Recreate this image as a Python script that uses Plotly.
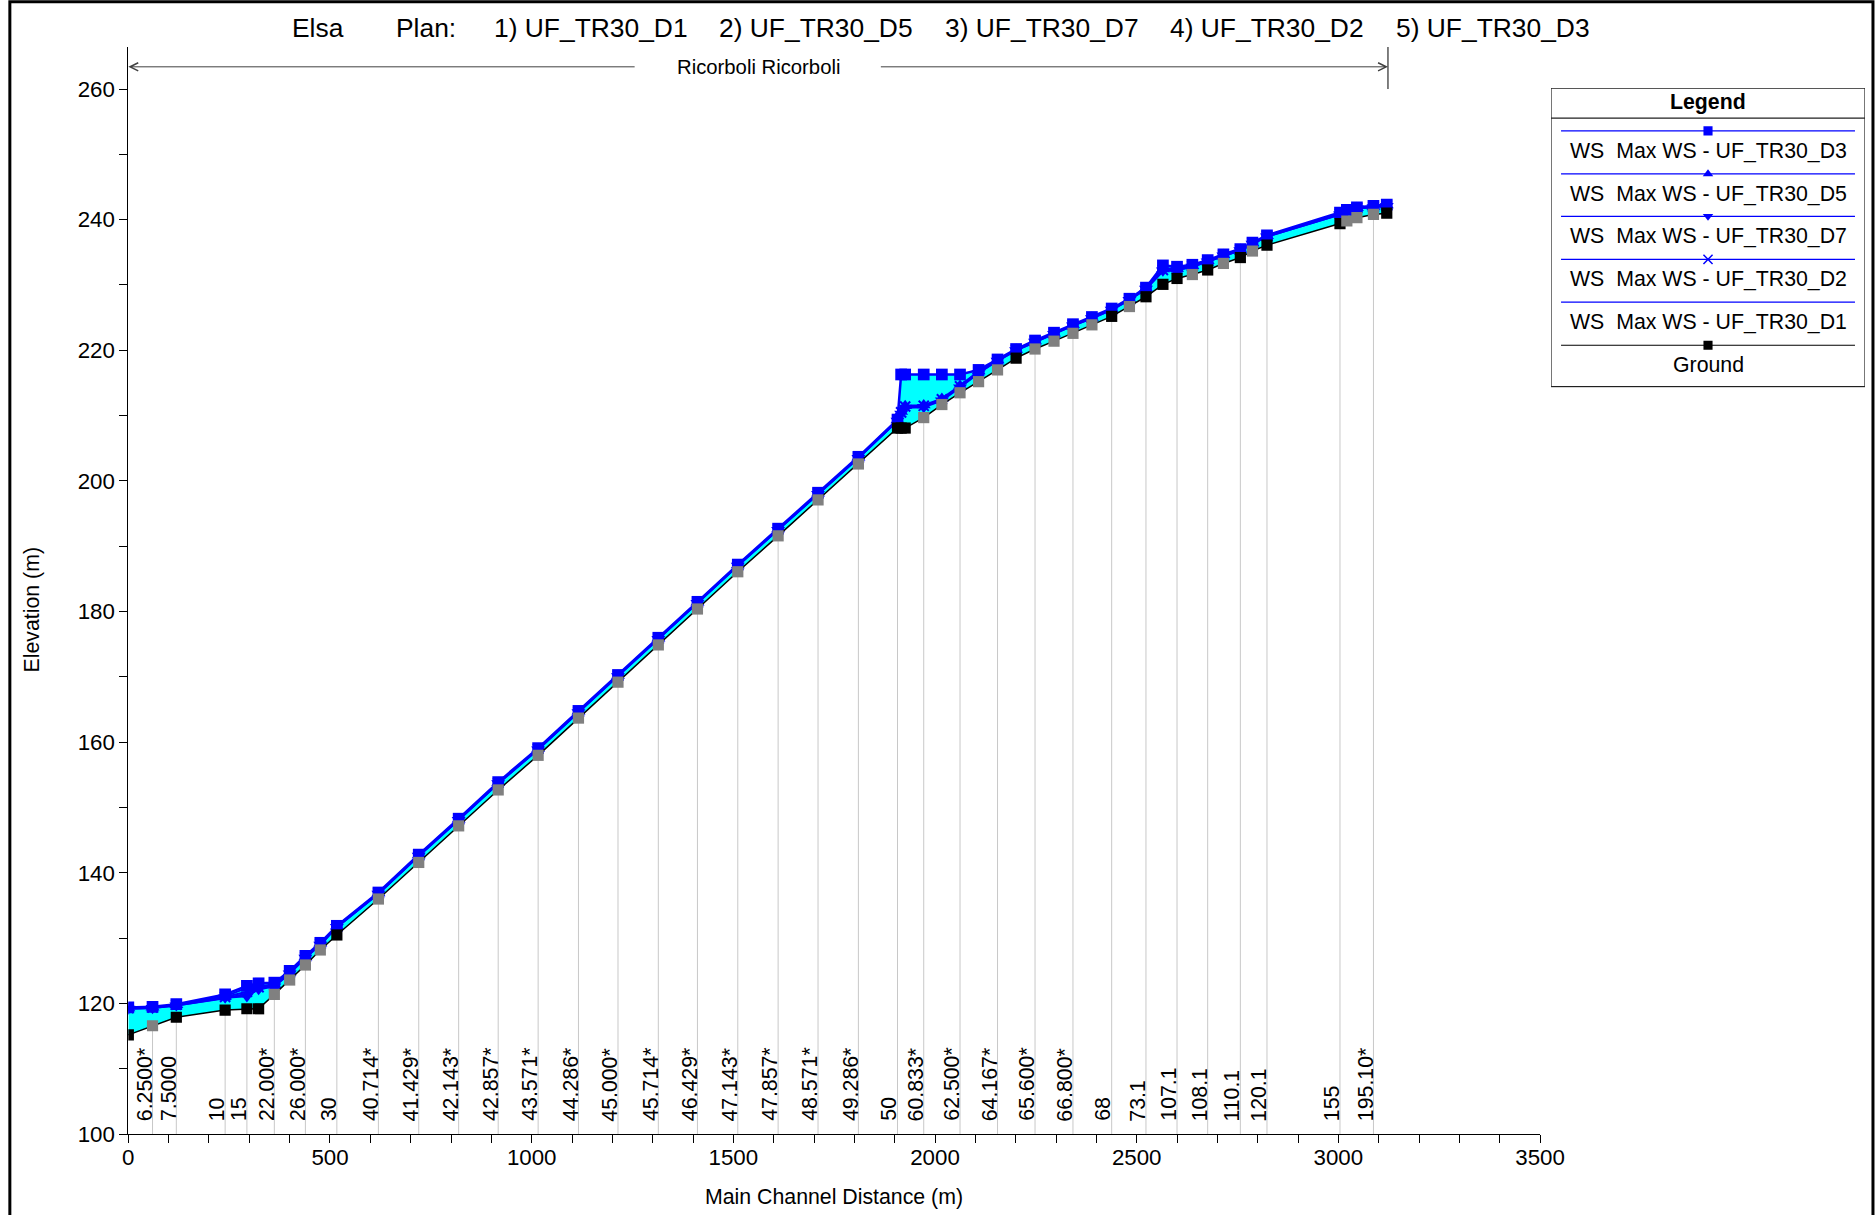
import plotly.graph_objects as go

# Elsa - Ricorboli profile, max water surface for 5 plans
station = [0, 60, 119, 240, 294, 323, 362, 400, 439, 476, 517,
           620, 720, 819, 917, 1016, 1116, 1214, 1314, 1411, 1511, 1611, 1710, 1810,
           1907, 1916, 1926, 1972, 2017, 2062, 2108, 2155, 2201, 2248, 2295, 2342, 2389,
           2438, 2482, 2523, 2565, 2600, 2638, 2676, 2715, 2757, 2787, 2823,
           3004, 3021, 3046, 3087, 3120]

rs_label = ['', '6.2500*', '7.5000', '10', '15', '', '22.000*', '', '26.000*', '', '30',
            '40.714*', '41.429*', '42.143*', '42.857*', '43.571*', '44.286*', '45.000*',
            '45.714*', '46.429*', '47.143*', '47.857*', '48.571*', '49.286*',
            '50', '', '', '60.833*', '', '62.500*', '', '64.167*', '', '65.600*', '', '66.800*', '',
            '68', '', '73.1', '', '107.1', '', '108.1', '', '110.1', '', '120.1',
            '155', '', '', '195.10*', '']

ground = [115.2, 116.6, 117.9, 119.0, 119.2, 119.2, 121.4, 123.6, 125.9, 128.2, 130.5,
          136.0, 141.6, 147.2, 152.7, 158.0, 163.7, 169.2, 174.9, 180.4, 186.1, 191.6, 197.1, 202.6,
          208.1, 208.1, 208.1, 209.7, 211.7, 213.5, 215.2, 217.0, 218.8, 220.2, 221.4, 222.6, 223.9,
          225.2, 226.7, 228.2, 230.1, 231.0, 231.6, 232.3, 233.3, 234.2, 235.2, 236.1,
          239.4, 239.8, 240.3, 240.8, 241.0]

# interpolated cross sections (grey markers)
interp = [0, 1, 0, 0, 0, 0, 1, 1, 1, 1, 0,
          1, 1, 1, 1, 1, 1, 1, 1, 1, 1, 1, 1, 1,
          0, 0, 0, 1, 1, 1, 1, 1, 0, 1, 1, 1, 1,
          0, 1, 0, 0, 0, 1, 0, 1, 0, 1, 0,
          0, 1, 1, 1, 0]

ws_d3 = [119.4, 119.5, 119.9, 121.4, 122.7, 123.1, 123.2, 125.0, 127.3, 129.3, 131.9,
         137.0, 142.8, 148.3, 153.9, 159.1, 164.8, 170.3, 176.0, 181.5, 187.2, 192.7, 198.2, 203.7,
         209.4, 216.3, 216.3, 216.3, 216.3, 216.3, 217.0, 218.6, 220.2, 221.5, 222.7, 224.0, 225.1,
         226.4, 227.9, 229.6, 233.0, 232.8, 233.1, 233.8, 234.7, 235.5, 236.5, 237.6,
         241.1, 241.5, 241.9, 242.1, 242.3]
ws_d5 = [119.3, 119.4, 119.8, 121.1, 122.4, 122.7, 122.9, 124.8, 127.1, 129.2, 131.8,
         136.9, 142.7, 148.2, 153.8, 159.0, 164.7, 170.2, 175.9, 181.4, 187.1, 192.6, 198.1, 203.6,
         209.3, 210.6, 211.5, 211.6, 212.6, 214.6, 216.8, 218.5, 220.1, 221.4, 222.6, 223.9, 225.0,
         226.3, 227.8, 229.5, 232.4, 232.5, 232.9, 233.7, 234.6, 235.4, 236.4, 237.5,
         240.9, 241.4, 241.8, 242.0, 242.2]
ws_d7 = [119.2, 119.3, 119.7, 120.9, 121.1, 122.2, 122.6, 124.6, 127.0, 129.0, 131.7,
         136.8, 142.6, 148.1, 153.7, 158.9, 164.6, 170.1, 175.8, 181.3, 187.0, 192.5, 198.0, 203.5,
         209.2, 210.3, 211.2, 211.3, 212.3, 214.3, 216.5, 218.4, 220.0, 221.3, 222.5, 223.8, 224.9,
         226.2, 227.7, 229.4, 232.2, 232.3, 232.8, 233.6, 234.5, 235.3, 236.3, 237.4,
         240.8, 241.3, 241.7, 241.9, 242.1]
ws_d2 = [119.3, 119.4, 119.8, 121.0, 121.8, 122.5, 122.8, 124.7, 127.1, 129.1, 131.8,
         136.9, 142.7, 148.2, 153.8, 159.0, 164.7, 170.2, 175.9, 181.4, 187.1, 192.6, 198.1, 203.6,
         209.3, 210.5, 211.4, 211.5, 212.5, 214.5, 216.7, 218.5, 220.1, 221.4, 222.6, 223.9, 225.0,
         226.3, 227.8, 229.5, 232.3, 232.4, 232.9, 233.7, 234.6, 235.4, 236.4, 237.5,
         240.9, 241.4, 241.8, 242.0, 242.2]
ws_d1 = [119.2, 119.3, 119.7, 120.8, 121.5, 122.3, 122.7, 124.6, 127.0, 129.0, 131.7,
         136.8, 142.6, 148.1, 153.7, 158.9, 164.6, 170.1, 175.8, 181.3, 187.0, 192.5, 198.0, 203.5,
         209.2, 210.4, 211.3, 211.4, 212.4, 214.4, 216.6, 218.4, 220.0, 221.3, 222.5, 223.8, 224.9,
         226.2, 227.7, 229.4, 232.1, 232.3, 232.8, 233.6, 234.5, 235.3, 236.3, 237.4,
         240.8, 241.3, 241.7, 241.9, 242.1]

reach_end = 3123
plans = ['UF_TR30_D1', 'UF_TR30_D5', 'UF_TR30_D7', 'UF_TR30_D2', 'UF_TR30_D3']

FONT = 'Liberation Sans, Arial, sans-serif'
BLUE = '#0000FF'

# the page comes out slightly shrunk in the capture, compensate for it
SX, OX = 0.9839, 5.65
SY, OY = 0.9874, 1.14
W, H = 1902, 1230
K = 1 / 0.986  # size compensation for fonts / markers


def px(x):
    return (x - OX) / SX / W


def py(y):
    return 1 - (y - OY) / SY / H


def fs(v):
    return round(v * K, 1)


fig = go.Figure()

# cyan fill between ground and highest water surface
top = [max(v) for v in zip(ws_d3, ws_d5, ws_d7, ws_d2, ws_d1)]
fig.add_trace(go.Scatter(x=station, y=ground, mode='lines', line=dict(width=0), hoverinfo='skip'))
fig.add_trace(go.Scatter(x=station, y=top, mode='lines', line=dict(width=0),
                         fill='tonexty', fillcolor='#00FFFF', hoverinfo='skip'))

# vertical lines at labelled cross sections, up to the ground
gx, gy = [], []
for s, g, lab in zip(station, ground, rs_label):
    if lab:
        gx += [s, s, None]
        gy += [100, g, None]
fig.add_trace(go.Scatter(x=gx, y=gy, mode='lines', line=dict(color='#C8C8C8', width=1),
                         hoverinfo='skip'))

# water surfaces
fig.add_trace(go.Scatter(x=station, y=ws_d1, mode='lines', line=dict(color=BLUE, width=2)))
fig.add_trace(go.Scatter(x=station, y=ws_d2, mode='lines+markers', line=dict(color=BLUE, width=2),
                         marker=dict(symbol='x-thin', size=fs(10), line=dict(color=BLUE, width=2))))
fig.add_trace(go.Scatter(x=station, y=ws_d7, mode='lines+markers', line=dict(color=BLUE, width=2),
                         marker=dict(symbol='triangle-down', size=fs(12), color=BLUE)))
fig.add_trace(go.Scatter(x=station, y=ws_d5, mode='lines+markers', line=dict(color=BLUE, width=2),
                         marker=dict(symbol='triangle-up', size=fs(12), color=BLUE)))
fig.add_trace(go.Scatter(x=station, y=ws_d3, mode='lines+markers', line=dict(color=BLUE, width=2.5),
                         marker=dict(symbol='square', size=fs(11.5), color=BLUE)))

# ground
gcol = ['#808080' if i else 'black' for i in interp]
fig.add_trace(go.Scatter(x=station, y=ground, mode='lines+markers', line=dict(color='black', width=1.5),
                         marker=dict(symbol='square', size=fs(11), color=gcol)))

# cross-section labels
for s, lab in zip(station, rs_label):
    if lab:
        fig.add_annotation(x=s, y=100, xref='x', yref='y', text=lab, showarrow=False,
                           textangle=-90, xanchor='right', yanchor='bottom',
                           xshift=6, yshift=11, font=dict(family=FONT, size=fs(21), color='black'))

# reach bracket
fig.add_shape(type='line', x0=reach_end, x1=reach_end, y0=260, y1=266.44, xref='x', yref='y',
              line=dict(color='black', width=1))
fig.add_annotation(x=reach_end / 2, y=263.4, text='Ricorboli Ricorboli', showarrow=False,
                   font=dict(family=FONT, size=fs(20), color='black'))
fig.add_annotation(x=0, y=263.4, ax=1259, ay=263.4, axref='x', ayref='y', text='',
                   showarrow=True, arrowhead=5, arrowsize=1.6, arrowwidth=1, arrowcolor='#404040',
                   standoff=0)
fig.add_annotation(x=reach_end, y=263.4, ax=1862, ay=263.4, axref='x', ayref='y', text='',
                   showarrow=True, arrowhead=5, arrowsize=1.6, arrowwidth=1, arrowcolor='#404040',
                   standoff=0)

# title pieces
title_parts = [('Elsa', 292), ('Plan:', 396)] + [
    ('%d) %s' % (i + 1, p), x) for i, (p, x) in enumerate(zip(plans, [494, 719, 945, 1170, 1396]))]
for txt, tx in title_parts:
    fig.add_annotation(x=px(tx - 2), y=py(29), xref='paper', yref='paper', text=txt,
                       showarrow=False, xanchor='left', yanchor='middle',
                       font=dict(family=FONT, size=fs(26), color='black'))

# axis titles
fig.add_annotation(x=px(834), y=py(1196), xref='paper', yref='paper',
                   text='Main Channel Distance (m)', showarrow=False,
                   xanchor='center', yanchor='middle',
                   font=dict(family=FONT, size=fs(21), color='black'))
fig.add_annotation(x=px(32), y=py(610), xref='paper', yref='paper',
                   text='Elevation (m)', showarrow=False, textangle=-90,
                   xanchor='center', yanchor='middle',
                   font=dict(family=FONT, size=fs(21), color='black'))

# legend box (drawn on an auxiliary pixel-unit axis)
leg_names = ['WS\u00a0 Max WS - UF_TR30_D3', 'WS\u00a0 Max WS - UF_TR30_D5',
             'WS\u00a0 Max WS - UF_TR30_D7', 'WS\u00a0 Max WS - UF_TR30_D2',
             'WS\u00a0 Max WS - UF_TR30_D1', 'Ground']
leg_sym = ['square', 'triangle-up', 'triangle-down', 'x-thin', None, 'square']
leg_col = [BLUE, BLUE, BLUE, BLUE, BLUE, 'black']
leg_line_y = [131.7, 174.7, 217, 260, 302.7, 345.7]
for name, sym, col, ly in zip(leg_names, leg_sym, leg_col, leg_line_y):
    fig.add_trace(go.Scatter(x=[1561, 1855], y=[ly, ly], mode='lines', xaxis='x2', yaxis='y2',
                             line=dict(color=col, width=1.2), hoverinfo='skip'))
    if sym:
        fig.add_trace(go.Scatter(x=[1708], y=[ly], mode='markers', xaxis='x2', yaxis='y2',
                                 marker=dict(symbol=sym, size=fs(9), color=col,
                                             line=dict(color=col, width=1.5 if sym == 'x-thin' else 0)),
                                 hoverinfo='skip'))
    fig.add_annotation(x=1708, y=ly + 20, xref='x2', yref='y2', text=name, showarrow=False,
                       font=dict(family=FONT, size=fs(21), color='black'))
fig.add_annotation(x=1708, y=103, xref='x2', yref='y2', text='<b>Legend</b>', showarrow=False,
                   font=dict(family=FONT, size=fs(21), color='black'))
fig.add_shape(type='rect', x0=1551, x1=1865, y0=89, y1=387, xref='x2', yref='y2',
              line=dict(color='#202020', width=1.2))
fig.add_shape(type='line', x0=1551, x1=1865, y0=119, y1=119, xref='x2', yref='y2',
              line=dict(color='#202020', width=1.2))

# outer frame
fig.add_shape(type='rect', x0=px(9.5), x1=px(1873), y0=py(1240), y1=py(3),
              xref='paper', yref='paper', line=dict(color='black', width=3))

fig.update_layout(
    width=W, height=H,
    margin=dict(l=0, r=0, t=0, b=0, pad=0),
    plot_bgcolor='white', paper_bgcolor='white',
    showlegend=False,
    font=dict(family=FONT, size=fs(21), color='black'),
    xaxis=dict(domain=[px(128), px(1540)], range=[0, 3500], tickmode='array',
               tickvals=[0, 500, 1000, 1500, 2000, 2500, 3000, 3500],
               ticks='outside', ticklen=8, tickcolor='black', showline=True, linecolor='black',
               linewidth=1, showgrid=False, zeroline=False, ticklabelstandoff=-5,
               minor=dict(dtick=100, ticks='outside', ticklen=8, tickcolor='black', showgrid=False),
               tickfont=dict(family=FONT, size=fs(22), color='black')),
    yaxis=dict(domain=[py(1133), py(48)], range=[100, 266.44], tickmode='array',
               tickvals=[100, 120, 140, 160, 180, 200, 220, 240, 260],
               ticks='outside', ticklen=8, tickcolor='black', showline=True, linecolor='black',
               linewidth=1, showgrid=False, zeroline=False,
               minor=dict(tickvals=[110, 130, 150, 170, 190, 210, 230, 250], ticks='outside',
                          ticklen=8, tickcolor='black', showgrid=False),
               tickfont=dict(family=FONT, size=fs(22), color='black')),
    xaxis2=dict(domain=[px(1551), px(1865)], range=[1551, 1865], visible=False,
                anchor='y2'),
    yaxis2=dict(domain=[py(388), py(89)], range=[388, 89], visible=False,
                anchor='x2'),
)

fig.write_html('out.html', config={'displayModeBar': False},
               post_script="document.body.style.margin='0';document.body.style.overflow='hidden';")
